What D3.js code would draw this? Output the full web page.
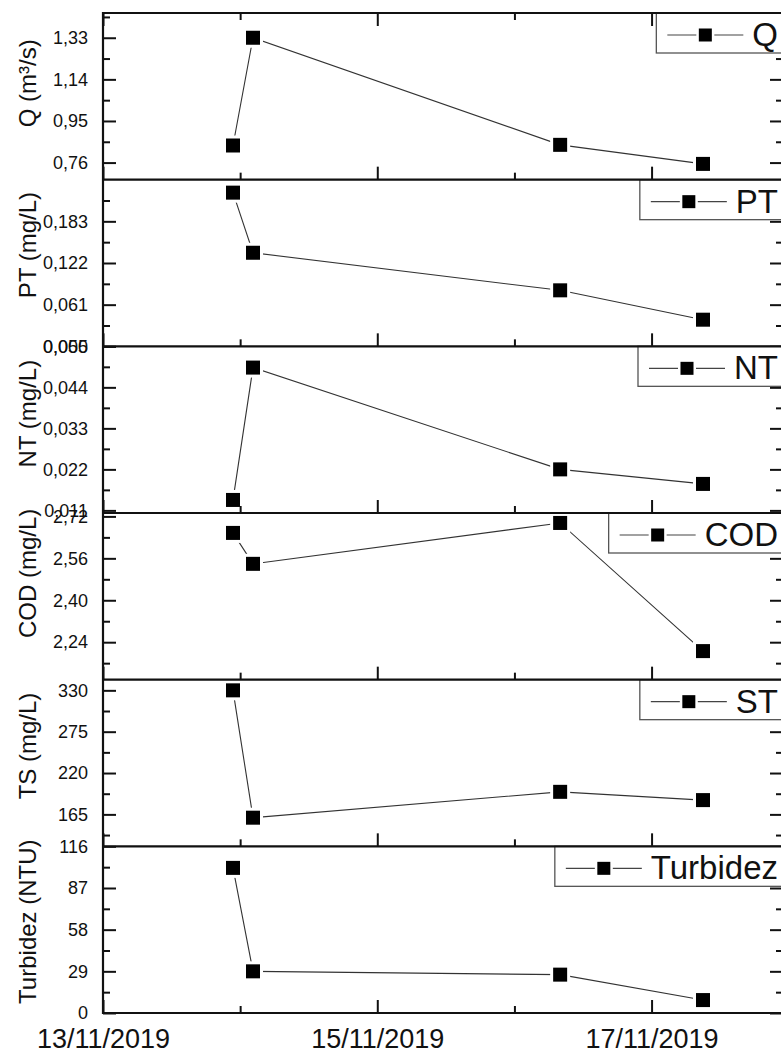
<!DOCTYPE html>
<html>
<head>
<meta charset="utf-8">
<script src="https://cdn.jsdelivr.net/npm/d3@7"></script>
<style>
  body { margin: 0; background: #fff; }
  svg { display: block; }
  text { font-family: "Liberation Sans", Arial, Helvetica, sans-serif; fill: #111; }
</style>
</head>
<body>
<svg id="chart" width="781" height="1055"></svg>
<script>
// Sampling instants (shared by every panel)
const sampleTimes = ["2019-11-13T22:45", "2019-11-14T02:15", "2019-11-16T08:00", "2019-11-17T09:00"];

// Date axis
const dateTicks  = ["2019-11-13", "2019-11-14", "2019-11-15", "2019-11-16", "2019-11-17"];
const dateLabels = ["13/11/2019", "", "15/11/2019", "", "17/11/2019"];
const dateMajor  = [true, false, true, false, true];

// Flow
const qValues = [0.838, 1.33, 0.841, 0.754];
const qTicks  = [0.76, 0.95, 1.14, 1.33];
const qDomain = [0.682, 1.443];

// Total phosphorus
const ptValues = [0.225, 0.137, 0.082, 0.039];
const ptTicks  = [0, 0.061, 0.122, 0.183];
const ptDomain = [0, 0.244];

// Total nitrogen
const ntValues = [0.0138, 0.0493, 0.0220, 0.0181];
const ntTicks  = [0.011, 0.022, 0.033, 0.044, 0.055];
const ntDomain = [0.0103, 0.055];

// Chemical oxygen demand
const codValues = [2.657, 2.539, 2.695, 2.206];
const codTicks  = [2.24, 2.40, 2.56, 2.72];
const codDomain = [2.097, 2.733];

// Total solids
const tsValues = [330, 160.6, 195, 184];
const tsTicks  = [165, 220, 275, 330];
const tsDomain = [122.5, 344.2];

// Turbidity
const turbValues = [101, 29, 26.7, 9];
const turbTicks  = [0, 29, 58, 87, 116];
const turbDomain = [0, 116];

const panelTitles  = ["Q (m³/s)", "PT (mg/L)", "NT (mg/L)", "COD (mg/L)", "TS (mg/L)", "Turbidez (NTU)"];
const legendLabels = ["Q", "PT", "NT", "COD", "ST", "Turbidez"];
const tickDigits   = [2, 3, 3, 2, 0, 0];

const panels = [
  { values: qValues,    ticks: qTicks,    domain: qDomain },
  { values: ptValues,   ticks: ptTicks,   domain: ptDomain },
  { values: ntValues,   ticks: ntTicks,   domain: ntDomain },
  { values: codValues,  ticks: codTicks,  domain: codDomain },
  { values: tsValues,   ticks: tsTicks,   domain: tsDomain },
  { values: turbValues, ticks: turbTicks, domain: turbDomain }
].map((p, i) => ({ ...p, title: panelTitles[i], legend: legendLabels[i], digits: tickDigits[i] }));

// ---- layout ----
const plotL = 103, plotR = 783, plotT = 13, plotB = 1013;
const panelH = (plotB - plotT) / panels.length;
const titleShift = [-13, -18, -16, -23, -17, -8];
const majorLen = 13, minorLen = 7;

const parseT = d3.isoParse;
const times = sampleTimes.map(parseT);
const svg = d3.select("#chart");

const x = d3.scaleTime()
  .domain([parseT("2019-11-13T00:00"), parseT("2019-11-17T23:00")])
  .range([plotL, plotR]);

const majorDates = dateTicks.filter((d, i) => dateMajor[i]).map(parseT);
const minorDates = dateTicks.filter((d, i) => !dateMajor[i]).map(parseT);
const labelOf = new Map(dateTicks.map((d, i) => [+parseT(d), dateLabels[i]]));

function minorValues(ticks, domain) {
  const step = (ticks[1] - ticks[0]) / 2;
  const out = [];
  for (let k = -20; k <= 40; k++) {
    const v = ticks[0] + k * step;
    if (k % 2 !== 0 && v >= domain[0] - 1e-9 && v <= domain[1] + 1e-9) out.push(v);
  }
  return out;
}

const FONT = '"Liberation Sans", Arial, sans-serif';
const layerPlot = svg.append("g");
const layerAxes = svg.append("g");
const layerLegend = svg.append("g");
const layerFrame = svg.append("g");

panels.forEach((p, i) => {
  const y0 = plotT + i * panelH, y1 = y0 + panelH;
  const y = d3.scaleLinear().domain(p.domain).range([y1, y0]);
  const fmt = v => d3.format(`.${p.digits}f`)(v).replace(".", ",");
  const pts = p.values.map((v, j) => ({ t: times[j], v }));

  // series line
  layerPlot.append("path")
    .datum(pts)
    .attr("fill", "none")
    .attr("stroke", "#333")
    .attr("stroke-width", 1.1)
    .attr("d", d3.line().x(d => x(d.t)).y(d => y(d.v)));

  // square markers with a small gap around them
  const mk = layerPlot.append("g").selectAll("g").data(pts).join("g")
    .attr("transform", d => `translate(${x(d.t)},${y(d.v)})`);
  mk.append("rect").attr("x", -10).attr("y", -10).attr("width", 20).attr("height", 20).attr("fill", "#fff");
  mk.append("rect").attr("x", -7).attr("y", -7).attr("width", 14).attr("height", 14).attr("fill", "#000");

  // left axis (ticks pointing inward)
  const gl = layerAxes.append("g").attr("transform", `translate(${plotL},0)`)
    .call(d3.axisLeft(y).tickValues(p.ticks).tickSize(-majorLen).tickPadding(15).tickFormat(fmt));
  gl.select(".domain").remove();
  gl.selectAll("line").attr("stroke", "#111").attr("stroke-width", 2);
  gl.selectAll("text").attr("font-size", 18).attr("fill", "#222").style("font-family", FONT);
  const glm = layerAxes.append("g").attr("transform", `translate(${plotL},0)`)
    .call(d3.axisLeft(y).tickValues(minorValues(p.ticks, p.domain)).tickSize(-minorLen).tickFormat(""));
  glm.select(".domain").remove();
  glm.selectAll("line").attr("stroke", "#111").attr("stroke-width", 2);

  // right axis mirror
  [[p.ticks, majorLen], [minorValues(p.ticks, p.domain), minorLen]].forEach(([vals, len]) => {
    const gr = layerAxes.append("g").attr("transform", `translate(${plotR},0)`)
      .call(d3.axisRight(y).tickValues(vals).tickSize(-len).tickFormat(""));
    gr.select(".domain").remove();
    gr.selectAll("line").attr("stroke", "#111").attr("stroke-width", 2);
  });

  // bottom date ticks for this panel
  const last = i === panels.length - 1;
  const gb = layerAxes.append("g").attr("transform", `translate(0,${y1})`)
    .call(d3.axisBottom(x).tickValues(majorDates).tickSize(-majorLen).tickPadding(16)
      .tickFormat(d => last ? labelOf.get(+d) : ""));
  gb.select(".domain").remove();
  gb.selectAll("line").attr("stroke", "#111").attr("stroke-width", 2);
  gb.selectAll("text").attr("font-size", 27).attr("fill", "#111").style("font-family", FONT);
  const gbm = layerAxes.append("g").attr("transform", `translate(0,${y1})`)
    .call(d3.axisBottom(x).tickValues(minorDates).tickSize(-minorLen).tickFormat(""));
  gbm.select(".domain").remove();
  gbm.selectAll("line").attr("stroke", "#111").attr("stroke-width", 2);

  // top date ticks on the first panel
  if (i === 0) {
    [[majorDates, majorLen], [minorDates, minorLen]].forEach(([vals, len]) => {
      const gt = layerAxes.append("g").attr("transform", `translate(0,${y0})`)
        .call(d3.axisTop(x).tickValues(vals).tickSize(-len).tickFormat(""));
      gt.select(".domain").remove();
      gt.selectAll("line").attr("stroke", "#111").attr("stroke-width", 2);
    });
  }

  // panel y title
  layerAxes.append("text")
    .attr("transform", `translate(36,${(y0 + y1) / 2 + titleShift[i]}) rotate(-90)`)
    .attr("text-anchor", "middle")
    .attr("font-size", 24)
    .attr("fill", "#222")
    .text(p.title);

  // legend box
  const lg = layerLegend.append("g");
  const box = lg.append("rect");
  const lt = lg.append("text")
    .attr("x", 778).attr("y", y0 + 33)
    .attr("text-anchor", "end")
    .attr("font-size", 33)
    .text(p.legend);
  const w = lt.node().getComputedTextLength();
  const bx = 778 - w - 96;
  box.attr("x", bx).attr("y", y0).attr("width", plotR + 6 - bx).attr("height", 40)
    .attr("fill", "#fff").attr("stroke", "#555").attr("stroke-width", 1.3);
  const cy = y0 + 22;
  lg.append("line").attr("x1", bx + 11).attr("x2", bx + 87).attr("y1", cy).attr("y2", cy)
    .attr("stroke", "#444").attr("stroke-width", 1.1);
  lg.append("rect").attr("x", bx + 49 - 9).attr("y", cy - 9).attr("width", 18).attr("height", 18).attr("fill", "#fff");
  lg.append("rect").attr("x", bx + 49 - 6.5).attr("y", cy - 6.5).attr("width", 13).attr("height", 13).attr("fill", "#000");

  // panel frame line (bottom edge)
  layerFrame.append("line").attr("x1", plotL).attr("x2", plotR + 2).attr("y1", y1).attr("y2", y1)
    .attr("stroke", "#111").attr("stroke-width", 2.2);
});

// outer frame
layerFrame.append("line").attr("x1", plotL).attr("x2", plotR + 2).attr("y1", plotT).attr("y2", plotT)
  .attr("stroke", "#111").attr("stroke-width", 2.2);
layerFrame.append("line").attr("x1", plotL).attr("x2", plotL).attr("y1", plotT - 1).attr("y2", plotB + 1)
  .attr("stroke", "#111").attr("stroke-width", 2.2);
layerFrame.append("line").attr("x1", plotR).attr("x2", plotR).attr("y1", plotT - 1).attr("y2", plotB + 1)
  .attr("stroke", "#111").attr("stroke-width", 2.2);
</script>
</body>
</html>
